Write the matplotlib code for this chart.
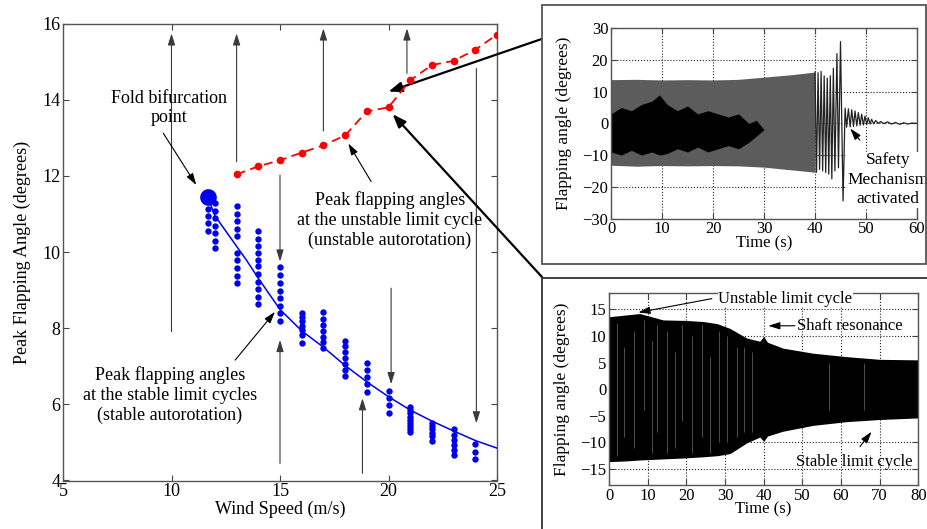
import matplotlib
matplotlib.use("Agg")
import matplotlib.pyplot as plt
from matplotlib.patches import Rectangle

plt.rcParams['font.family'] = ['Liberation Serif', 'DejaVu Serif']

# ---- bifurcation diagram data ----
unstable_speed = [13, 14, 15, 16, 17, 18, 19, 20, 21, 22, 23, 24, 25]
unstable_peak = [12.04, 12.25, 12.41, 12.61, 12.80, 13.06, 13.69, 13.80, 14.51, 14.91, 15.02, 15.31, 15.71]

fold_point = (11.67, 11.45)

stable_fit_speed = [11.67, 12.0, 13.0, 13.45, 14.0, 15.0, 16.0, 17.0, 18.0, 19.0, 20.0, 21.0, 22.0, 23.0, 24.0, 25.0]
stable_fit_peak = [11.45, 10.95, 10.15, 9.79, 9.31, 8.49, 7.93, 7.50, 7.02, 6.59, 6.20, 5.85, 5.56, 5.30, 5.05, 4.85]

# simulated peaks at each wind speed
stable_runs = {
    11.7: [11.14, 10.94, 10.76, 10.56],
    12.0: [11.28, 11.08, 10.88, 10.68, 10.49, 10.30, 10.10],
    13.0: [11.20, 11.00, 10.81, 10.61, 10.42, 9.97, 9.78, 9.57, 9.37, 9.18],
    14.0: [10.55, 10.35, 10.15, 9.97, 9.80, 9.62, 9.43, 9.22, 9.04, 8.83, 8.63],
    15.0: [9.60, 9.40, 9.19, 8.98, 8.78, 8.59, 8.39, 8.19],
    16.0: [8.39, 8.29, 8.18, 8.06, 7.95, 7.81, 7.60],
    17.0: [8.43, 8.25, 8.08, 7.93, 7.78, 7.64, 7.49],
    18.0: [7.67, 7.52, 7.37, 7.22, 7.07, 6.91, 6.74],
    19.0: [7.09, 6.91, 6.71, 6.53, 6.33],
    20.0: [6.36, 6.16, 5.97, 5.77],
    21.0: [5.94, 5.86, 5.77, 5.68, 5.60, 5.51, 5.42, 5.34, 5.27],
    22.0: [5.52, 5.43, 5.34, 5.25, 5.16, 5.04],
    23.0: [5.35, 5.20, 5.06, 4.93, 4.80, 4.67],
    24.0: [4.96, 4.76, 4.56],
}

# basin arrows: (speed, start, end)
basin_arrows = [
    (10.0, 7.91, 15.74), (13.0, 12.37, 15.74), (17.0, 13.18, 15.87),
    (20.85, 14.69, 15.87), (15.0, 12.02, 9.75), (24.05, 14.82, 5.50),
    (15.0, 4.45, 7.69), (18.8, 4.19, 6.16), (20.12, 9.05, 6.53),
]

# ---- time history at 20 m/s, started on the unstable cycle ----
unst_env_t = [0, 5, 10, 15, 20, 25, 30, 35, 40]
unst_env_hi = [13.8, 13.9, 13.7, 13.8, 13.7, 13.9, 14.6, 15.3, 16.2]
unst_env_lo = [-13.2, -13.5, -13.3, -13.4, -13.3, -13.4, -13.8, -14.6, -15.4]
unst_core_t = [0, 2, 4, 6, 8, 9.5, 11, 13, 15, 17, 19, 21, 23, 25, 27, 28.5, 30]
unst_core_hi = [3, 5, 4, 6, 7, 9, 6, 4, 5.5, 3, 4, 3, 2, 3, 0, 1, -2]
unst_core_lo = [-9, -10, -8.5, -10, -9, -10, -9.5, -8, -9, -7.5, -9, -8, -7, -8, -6, -4, -2]
# individual cycles after 40 s, then the safety shutdown
burst_t = [40.0, 40.3, 40.6, 40.9, 41.2, 41.5, 41.8, 42.1, 42.4, 42.7, 43.0, 43.3,
           43.6, 43.9, 44.3, 44.6, 45.0, 45.5,
           45.9, 46.2, 46.55, 46.9, 47.2, 47.55, 47.85, 48.2, 48.5, 48.85, 49.15, 49.5,
           49.8, 50.15, 50.45, 50.8, 51.1, 51.5, 51.9, 52.4, 52.9, 53.5, 54.2, 55.0,
           55.8, 56.6, 57.4, 58.2, 59.0, 60.0]
burst_val = [16.2, -15.4, 16.0, -14.5, 16.4, -15.0, 15.0, -15.5, 14.3, -16.0, 15.0, -17.5,
             17.4, -15.0, 22.0, -14.0, 25.8, -24.5,
             4.8, -1.2, 4.6, -1.1, 4.3, -1.0, 3.9, -0.8, 3.4, -0.6, 2.9, -0.5,
             2.3, -0.3, 1.8, -0.2, 1.3, -0.1, 0.9, 0.0, 0.6, -0.1, 0.5, -0.2,
             0.3, -0.3, 0.2, -0.2, 0.1, 0.0]

# ---- time history at 20 m/s, started below the unstable cycle ----
stab_env_t = [0, 4, 8, 14, 20, 24.4, 28, 31.3, 35.6, 39, 40, 41, 45, 52.8, 61.5, 70, 80]
stab_env_hi = [13.6, 13.9, 14.2, 13.0, 12.9, 12.7, 12.3, 11.4, 9.6, 9.0, 9.9, 8.8, 7.7, 6.75, 6.1, 5.6, 5.5]
stab_env_lo = [-13.6, -13.5, -13.3, -13.1, -12.9, -12.7, -12.5, -12.1, -10.1, -9.0, -9.8, -8.8, -7.9, -6.8, -6.1, -5.7, -5.4]
# light streaks inside the band
stab_streak_t = [2, 4, 6.5, 9, 11, 12.5, 15, 17, 19, 21.5, 24, 26, 28.5, 30.5, 33, 35, 37, 57, 66]
stab_streak_hi = [12.5, 8, 11, 13, 9, 12, 11, 7, 12, 10, 12, 6, 11, 10, 8, 8, 7, 5, 5]
stab_streak_lo = [-12.5, -9, -11, -4, -12, -8, -12, -11, -6, -12, -9, -12, -10, -10, -9, -8, -8, -4, -4]


fig = plt.figure(figsize=(9.27, 5.29), dpi=100)
W, H = 927.0, 529.0


def fig_rect(x0, y0, x1, y1):
    # pixel box (top-left origin) -> figure fraction rect
    return [x0 / W, 1 - y1 / H, (x1 - x0) / W, (y1 - y0) / H]


def style_axes(ax, size):
    ax.tick_params(direction='in', top=True, right=True, labelsize=size,
                   colors='#444444', labelcolor='black', length=4, width=0.8, pad=2)
    for sp in ax.spines.values():
        sp.set_color('#555555')
        sp.set_linewidth(1.0)


# ---------------- main bifurcation plot ----------------
ax = fig.add_axes(fig_rect(63, 23.5, 497, 480.5))
style_axes(ax, 13)
ax.set_xlim(5, 25)
ax.set_ylim(4, 16)
ax.set_xticks([5, 10, 15, 20, 25])
ax.set_yticks([4, 6, 8, 10, 12, 14, 16])
ax.set_xlabel('Wind Speed (m/s)', fontsize=13, labelpad=0)
ax.set_ylabel('Peak Flapping Angle (degrees)', fontsize=13, labelpad=8)

for x, y0, y1 in basin_arrows:
    ax.annotate('', xy=(x, y1), xytext=(x, y0),
                arrowprops=dict(arrowstyle='-|>,head_length=0.7,head_width=0.22',
                                color='#3a3a3a', lw=0.8, shrinkA=0, shrinkB=0))

ax.plot(stable_fit_speed, stable_fit_peak, color='#0000ee', lw=1.1, zorder=3)
for spd, peaks in stable_runs.items():
    ax.plot([spd] * len(peaks), peaks, 'o', color='#0000ee', ms=4.6, mec='none', zorder=4)
ax.plot(*fold_point, 'o', color='#0000ee', ms=12, mec='none', zorder=5)
ax.plot(unstable_speed, unstable_peak, '--', color='#ff0000', lw=1.3,
        dashes=(5, 3), marker='o', ms=5.5, mec='none', zorder=4)

ann_kw = dict(arrowstyle='-|>,head_length=0.7,head_width=0.22', color='black', lw=0.8,
              shrinkA=0, shrinkB=0)
ax.annotate('', xy=(11.14, 11.76), xytext=(9.62, 13.12), arrowprops=ann_kw)
ax.text(9.88, 13.78, 'Fold bifurcation\npoint', ha='center', va='center',
        fontsize=13, linespacing=1.15)
ax.annotate('', xy=(18.15, 12.85), xytext=(19.2, 11.85), arrowprops=ann_kw)
ax.text(20.07, 10.84, 'Peak flapping angles\nat the unstable limit cycle\n(unstable autorotation)',
        ha='center', va='center', fontsize=13, linespacing=1.2)
ax.annotate('', xy=(14.77, 8.43), xytext=(12.93, 7.16), arrowprops=ann_kw)
ax.text(9.93, 6.24, 'Peak flapping angles\nat the stable limit cycles\n(stable autorotation)',
        ha='center', va='center', fontsize=13, linespacing=1.2)

# ---------------- panel frames ----------------
fig.patches.append(Rectangle((541.7 / W, 1 - 264 / H), (925.5 - 541.7) / W, (264 - 5) / H,
                             transform=fig.transFigure, fill=False, ec='#555555', lw=1.3))
fig.patches.append(Rectangle((541.7 / W, 1 - 560 / H), (960 - 541.7) / W, (560 - 277.5) / H,
                             transform=fig.transFigure, fill=False, ec='#333333', lw=1.3,
                             clip_on=False))

# ---------------- top time history ----------------
ax1 = fig.add_axes(fig_rect(611, 28.3, 917, 218.5))
style_axes(ax1, 12)
ax1.set_xlim(0, 60)
ax1.set_ylim(-30, 30)
ax1.set_xticks(range(0, 61, 10))
ax1.set_yticks(range(-30, 31, 10))
ax1.grid(True, ls=':', color='#222222', lw=0.8)
ax1.set_axisbelow(True)
ax1.set_xlabel('Time (s)', fontsize=12, labelpad=-1.5)
ax1.set_ylabel('Flapping angle (degrees)', fontsize=12.5, labelpad=7)
ax1.fill_between(unst_env_t, unst_env_lo, unst_env_hi, color='#5c5c5c', lw=0, zorder=2)
ax1.fill_between(unst_core_t, unst_core_lo, unst_core_hi, color='black', lw=0, zorder=2)
ax1.plot(burst_t, burst_val, color='#222222', lw=0.9, zorder=3)
ax1.annotate('', xy=(46.9, -1.6), xytext=(48.8, -5.3), arrowprops=ann_kw)
ax1.text(54.3, -17.8, 'Safety\nMechanism\nactivated', ha='center', va='center',
         fontsize=12.5, linespacing=1.3, clip_on=False,
         bbox=dict(fc='white', ec='none', pad=0.5))

# ---------------- bottom time history ----------------
ax2 = fig.add_axes(fig_rect(609, 293.3, 918.3, 485))
style_axes(ax2, 12)
ax2.set_xlim(0, 80)
ax2.set_ylim(-18, 18)
ax2.set_xticks(range(0, 81, 10))
ax2.set_yticks(range(-15, 16, 5))
ax2.grid(True, ls=':', color='#222222', lw=0.8)
ax2.set_axisbelow(True)
ax2.set_xlabel('Time (s)', fontsize=12, labelpad=-1.5)
ax2.set_ylabel('Flapping angle (degrees)', fontsize=12.5, labelpad=7)
ax2.fill_between(stab_env_t, stab_env_lo, stab_env_hi, color='black', lw=0, zorder=2)
ax2.vlines(stab_streak_t, stab_streak_lo, stab_streak_hi, color='#6e6e6e', lw=0.5, zorder=3)
ax2.annotate('', xy=(7.6, 14.4), xytext=(26.6, 17.0), arrowprops=ann_kw, zorder=6)
ax2.text(45.6, 17.0, 'Unstable limit cycle', ha='center', va='center', fontsize=12,
         bbox=dict(fc='white', ec='none', pad=0.5), zorder=5, clip_on=False)
ax2.annotate('', xy=(41.2, 11.9), xytext=(48.1, 11.9), arrowprops=ann_kw)
ax2.text(48.6, 11.9, 'Shaft resonance', ha='left', va='center', fontsize=12)
ax2.annotate('', xy=(67.9, -8.0), xytext=(64.9, -10.8), arrowprops=ann_kw)
ax2.text(63.5, -13.7, 'Stable limit cycle', ha='center', va='center', fontsize=12)

# ---------------- connectors from panels to the unstable branch ----------------
conn_kw = dict(arrowstyle='-|>,head_length=0.8,head_width=0.3', color='black', lw=1.6,
               shrinkA=0, shrinkB=0)
ax.annotate('', xy=(20.0, 14.21), xycoords='data',
            xytext=(541.7 / W, 1 - 39 / H), textcoords='figure fraction',
            arrowprops=conn_kw, annotation_clip=False)
ax.annotate('', xy=(20.19, 13.62), xycoords='data',
            xytext=(542 / W, 1 - 277 / H), textcoords='figure fraction',
            arrowprops=conn_kw, annotation_clip=False)

fig.savefig('out.png', dpi=100)
